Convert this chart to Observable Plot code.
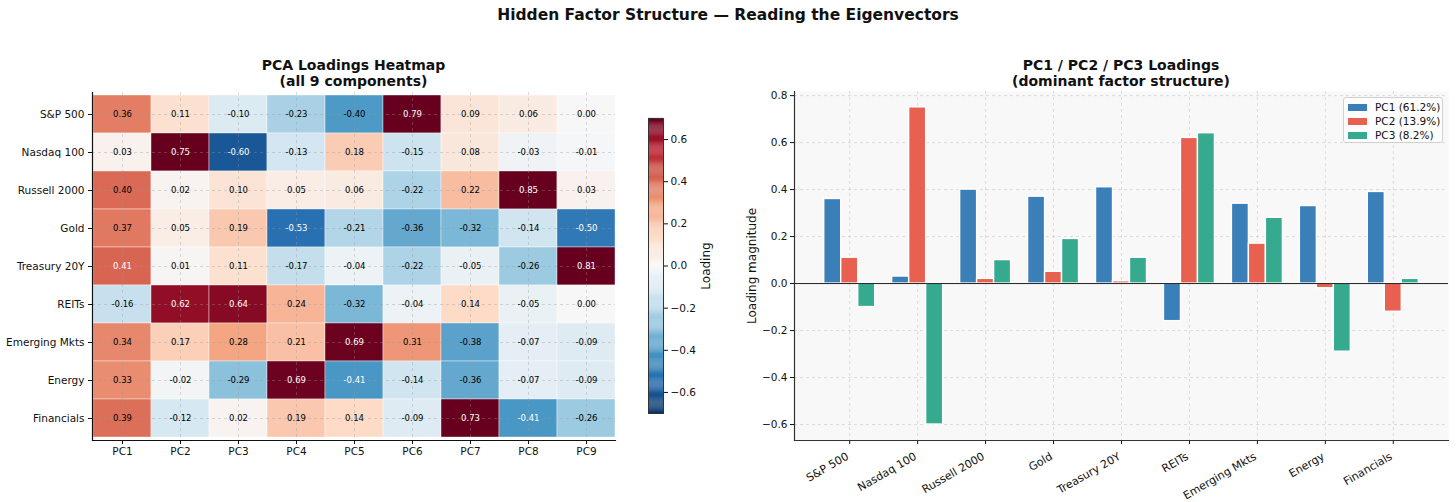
<!DOCTYPE html>
<html>
<head>
<meta charset="utf-8">
<script src="https://cdn.jsdelivr.net/npm/d3@7"></script>
<script src="https://cdn.jsdelivr.net/npm/@observablehq/plot@0.6"></script>
<style>
  html, body { margin: 0; padding: 0; background: #fff; }
  #root { position: relative; width: 1456px; height: 502px; overflow: hidden; font-family: "DejaVu Sans", sans-serif; color: #111; }
  .abs { position: absolute; }
  .suptitle { left: 0; width: 1456px; top: 6px; text-align: center; font-weight: bold; font-size: 15.5px; }
  .subtitle { text-align: center; font-weight: bold; font-size: 14px; line-height: 16px; }
  .vlabel { transform: translate(-50%, -50%) rotate(-90deg); white-space: nowrap; font-size: 12px; }
  .legend { left: 1343px; top: 97px; width: 100px; height: 46px; border: 1px solid #d0d0d0; border-radius: 3px; background: rgba(255,255,255,0.85); font-size: 10.5px; box-sizing: border-box; padding: 2px 0 0 4px; white-space: nowrap; }
  .legend div { display: flex; align-items: center; height: 14px; white-space: nowrap; }
  .legend span.sw { display: inline-block; flex: none; width: 19px; height: 7px; margin-right: 8px; }
  svg { position: absolute; top: 0; }
</style>
</head>
<body>
<div id="root">
  <div class="abs suptitle">Hidden Factor Structure — Reading the Eigenvectors</div>
  <div class="abs subtitle" style="left:92px;width:523px;top:57px;">PCA Loadings Heatmap<br>(all 9 components)</div>
  <div class="abs subtitle" style="left:794px;width:654px;top:57px;">PC1 / PC2 / PC3 Loadings<br>(dominant factor structure)</div>
  <div class="abs vlabel" style="left:706px;top:266px;">Loading</div>
  <div class="abs vlabel" style="left:752px;top:266px;">Loading magnitude</div>
  <div class="abs legend" id="legend"></div>
</div>
<script>
// ---------------- DATA ----------------
const assets = ["S&P 500", "Nasdaq 100", "Russell 2000", "Gold", "Treasury 20Y", "REITs", "Emerging Mkts", "Energy", "Financials"];
const components = ["PC1", "PC2", "PC3", "PC4", "PC5", "PC6", "PC7", "PC8", "PC9"];
const loadSP500      = [0.36, 0.11, -0.10, -0.23, -0.40, 0.79, 0.09, 0.06, 0.00];
const loadNasdaq100  = [0.03, 0.75, -0.60, -0.13, 0.18, -0.15, 0.08, -0.03, -0.01];
const loadRussell    = [0.40, 0.02, 0.10, 0.05, 0.06, -0.22, 0.22, 0.85, 0.03];
const loadGold       = [0.37, 0.05, 0.19, -0.53, -0.21, -0.36, -0.32, -0.14, -0.50];
const loadTreasury   = [0.41, 0.01, 0.11, -0.17, -0.04, -0.22, -0.05, -0.26, 0.81];
const loadREITs      = [-0.16, 0.62, 0.64, 0.24, -0.32, -0.04, 0.14, -0.05, 0.00];
const loadEmerging   = [0.34, 0.17, 0.28, 0.21, 0.69, 0.31, -0.38, -0.07, -0.09];
const loadEnergy     = [0.33, -0.02, -0.29, 0.69, -0.41, -0.14, -0.36, -0.07, -0.09];
const loadFinancials = [0.39, -0.12, 0.02, 0.19, 0.14, -0.09, 0.73, -0.41, -0.26];
const loadingRows = [loadSP500, loadNasdaq100, loadRussell, loadGold, loadTreasury, loadREITs, loadEmerging, loadEnergy, loadFinancials];
const barComponents = ["PC1", "PC2", "PC3"];
const barLegendLabels = ["PC1 (61.2%)", "PC2 (13.9%)", "PC3 (8.2%)"];
const barColors = ["#3a7fb8", "#e8604f", "#35aa8f"];
const colorbarTicks = [-0.6, -0.4, -0.2, 0.0, 0.2, 0.4, 0.6];
const barYTicks = [-0.6, -0.4, -0.2, 0.0, 0.2, 0.4, 0.6, 0.8];

// ---------------- helpers ----------------
const rdbu = ["#053061","#2166ac","#4393c3","#92c5de","#d1e5f0","#f7f7f7","#fddbc7","#f4a582","#d6604d","#b2182b","#67001f"];
const interp = d3.piecewise(d3.interpolateRgb, rdbu);
const colorScale = {type: "linear", domain: [-0.7, 0.7], interpolate: interp, clamp: true};
const fmt1 = d3.format(".1f");
const root = document.getElementById("root");

const cells = [];
assets.forEach((a, i) => components.forEach((c, j) => cells.push({asset: a, comp: c, value: loadingRows[i][j]})));

// ---------------- Heatmap ----------------
const heat = Plot.plot({
  width: 640, height: 502,
  marginLeft: 92, marginRight: 25, marginTop: 92, marginBottom: 62,
  style: {fontFamily: "DejaVu Sans, sans-serif", fontSize: "10.5px", color: "#111", background: "transparent"},
  x: {domain: components, padding: 0, label: null},
  y: {domain: assets, padding: 0, label: null},
  color: colorScale,
  marks: [
    Plot.cell(cells, {x: "comp", y: "asset", fill: "value", stroke: "white", strokeWidth: 0.4}),
    Plot.gridX({stroke: "#999", strokeOpacity: 0.35, strokeDasharray: "3,3"}),
    Plot.gridY({stroke: "#999", strokeOpacity: 0.35, strokeDasharray: "3,3"}),
    Plot.text(cells, {x: "comp", y: "asset", text: d => d.value.toFixed(2), fontSize: 8.5,
      fill: d => Math.abs(d.value) > 0.4 ? "white" : "black"}),
    Plot.axisX({tickSize: 4, tickPadding: 3, label: null}),
    Plot.axisY({tickSize: 4, tickPadding: 4, label: null}),
    Plot.frame({anchor: "left", stroke: "#111", strokeWidth: 1.2}),
    Plot.frame({anchor: "bottom", stroke: "#111", strokeWidth: 1.2})
  ]
});
heat.style.left = "0px";
root.appendChild(heat);

// ---------------- Colorbar ----------------
const cbStops = d3.range(-0.7, 0.7, 0.005);
const cbar = Plot.plot({
  width: 80, height: 502,
  marginLeft: 8, marginRight: 57, marginTop: 118, marginBottom: 89,
  style: {fontFamily: "DejaVu Sans, sans-serif", fontSize: "10.5px", color: "#111", background: "transparent"},
  y: {domain: [-0.7, 0.7], label: null},
  color: colorScale,
  marks: [
    Plot.rectY(cbStops, {y1: d => d, y2: d => d + 0.0055, fill: d => d + 0.0025}),
    Plot.frame({stroke: "#333", strokeWidth: 1}),
    Plot.axisY({anchor: "right", ticks: colorbarTicks, tickFormat: fmt1, tickSize: 4, tickPadding: 3, label: null})
  ]
});
cbar.style.left = "640px";
root.appendChild(cbar);

// ---------------- Grouped bars ----------------
const bars = [];
assets.forEach((a, i) => barComponents.forEach((c, k) => bars.push({asset: a, i, comp: c, k, value: loadingRows[i][k]})));
const bw = 0.25;
const assetIdx = assets.map((_, i) => i);
const barChart = Plot.plot({
  width: 728, height: 502,
  marginLeft: 66, marginRight: 8, marginTop: 91, marginBottom: 62,
  style: {fontFamily: "DejaVu Sans, sans-serif", fontSize: "10.5px", color: "#111", background: "transparent"},
  x: {domain: [-0.8125, 8.8125], label: null},
  y: {domain: [-0.668, 0.8175], label: null},
  color: {domain: barComponents, range: barColors},
  marks: [
    Plot.frame({fill: "#f8f8f8", stroke: null}),
    Plot.gridX(assetIdx, {stroke: "#bbb", strokeOpacity: 0.45, strokeDasharray: "3,3"}),
    Plot.gridY(barYTicks, {stroke: "#bbb", strokeOpacity: 0.45, strokeDasharray: "3,3"}),
    Plot.rectY(bars, {
      x1: d => d.i + (d.k - 1) * bw - bw / 2,
      x2: d => d.i + (d.k - 1) * bw + bw / 2,
      y1: 0, y2: "value", fill: "comp", stroke: "white", strokeWidth: 1.4
    }),
    Plot.ruleY([0], {stroke: "#222", strokeWidth: 1}),
    Plot.axisY({ticks: barYTicks, tickFormat: fmt1, tickSize: 4, tickPadding: 3, label: null}),
    Plot.axisX({ticks: assetIdx, tickFormat: () => "", tickSize: 4, label: null}),
    Plot.axisX({ticks: assetIdx, tickFormat: i => assets[i], tickRotate: -30, tickSize: 0, tickPadding: 7, dy: 8, dx: -2, label: null, fontSize: 11}),
    Plot.frame({anchor: "left", stroke: "#333", strokeWidth: 1.2}),
    Plot.frame({anchor: "bottom", stroke: "#333", strokeWidth: 1.2})
  ]
});
barChart.style.left = "728px";
root.appendChild(barChart);

// legend
const lg = document.getElementById("legend");
barComponents.forEach((c, k) => {
  const row = document.createElement("div");
  row.innerHTML = `<span class="sw" style="background:${barColors[k]}"></span><span>${barLegendLabels[k]}</span>`;
  lg.appendChild(row);
});
root.querySelectorAll(".abs").forEach(el => { el.style.zIndex = 2; });
</script>
</body>
</html>
